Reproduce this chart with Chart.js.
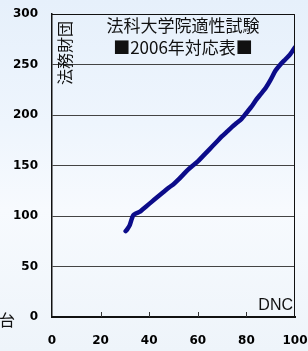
<!DOCTYPE html>
<html>
<head>
<meta charset="utf-8">
<script src="https://cdn.jsdelivr.net/npm/chart.js@4/dist/chart.umd.min.js"></script>
<style>
  html, body { margin: 0; padding: 0; }
  body { width: 308px; height: 351px; overflow: hidden;
    background: linear-gradient(180deg, #e6f0fb 0%, #eef5fd 35%, #f7fafe 60%, #eef4fa 100%); }
  #wrap { width: 308px; height: 351px; position: relative; }
</style>
</head>
<body>
<div id="wrap"><canvas id="c"></canvas></div>
<script>
// DNC 累積% (x) と 適性試験スコア (y)
const dncPct = [30.3, 31, 32, 32.8, 33.5, 34.5, 36, 37.5, 40, 42, 44, 46, 48, 50, 52, 54, 56, 58, 60,
  62, 64, 66, 68, 70, 72, 74, 76, 78, 80, 82, 84, 86, 88, 90, 92, 94, 96, 98, 100];
const scores = [85, 87, 91, 97, 101, 102.5, 104, 107, 112, 116, 120, 124, 128, 131.5, 136, 141, 146, 150, 154,
  159, 164, 169, 174, 179, 183.5, 188, 192, 196, 202, 208, 215, 221, 227, 235, 244, 250, 255, 260, 267];
const xTicks = [0, 20, 40, 60, 80, 100];
const yTicks = [0, 50, 100, 150, 200, 250, 300];
const titleLines = ['法科大学院適性試験', '■2006年対応表■'];
const sideLabel = '法務財団';
const cornerLabel = 'DNC';
const leftLabel = '台';

const points = dncPct.map((x, i) => ({x: x, y: scores[i]}));

const decor = {
  id: 'decor',
  afterDraw(chart) {
    const ctx = chart.ctx;
    const a = chart.chartArea;
    const xs = chart.scales.x;
    ctx.save();
    // 枠
    ctx.strokeStyle = '#111';
    ctx.lineWidth = 1;
    ctx.beginPath();
    ctx.moveTo(a.left, a.top + 0.5);
    ctx.lineTo(a.right - 0.5, a.top + 0.5);
    ctx.lineTo(a.right - 0.5, a.bottom);
    ctx.stroke();
    // 内向き目盛り
    ctx.strokeStyle = '#333';
    xTicks.slice(1, -1).forEach(v => {
      const px = Math.round(xs.getPixelForValue(v)) + 0.5;
      ctx.beginPath();
      ctx.moveTo(px, a.bottom);
      ctx.lineTo(px, a.bottom - 5);
      ctx.stroke();
    });
    // タイトル
    ctx.fillStyle = '#111';
    ctx.font = '17px "Noto Sans CJK JP"';
    ctx.textAlign = 'center';
    ctx.textBaseline = 'middle';
    ctx.fillText(titleLines[0], 183, 26);
    ctx.fillText(titleLines[1], 183, 48);
    // 縦書きラベル
    ctx.save();
    ctx.translate(65, 53);
    ctx.rotate(-Math.PI / 2);
    ctx.font = '16px "Noto Sans CJK JP"';
    ctx.fillText(sideLabel, 0, 0);
    ctx.restore();
    // DNC
    ctx.font = '16px "Liberation Sans"';
    ctx.textAlign = 'right';
    ctx.textBaseline = 'alphabetic';
    ctx.fillText(cornerLabel, 293, 310);
    ctx.font = '16px "Noto Sans CJK JP"';
    ctx.textAlign = 'left';
    ctx.fillText(leftLabel, -1, 326);
    ctx.restore();
  }
};

new Chart(document.getElementById('c'), {
  type: 'scatter',
  data: {
    datasets: [{
      data: points,
      showLine: true,
      borderColor: '#0c0c8a',
      borderWidth: 4.5,
      pointRadius: 0,
      tension: 0.2,
      borderCapStyle: 'round',
      borderJoinStyle: 'round'
    }]
  },
  options: {
    responsive: true,
    maintainAspectRatio: false,
    animation: false,
    layout: { padding: { top: 14, right: 13, left: 0, bottom: 0 } },
    plugins: { legend: { display: false }, tooltip: { enabled: false } },
    scales: {
      x: {
        type: 'linear', min: 0, max: 100,
        afterFit: s => { s.height = 34; s.paddingLeft = 0; s.paddingRight = 0; },
        afterBuildTicks: s => { s.ticks = xTicks.map(v => ({value: v})); },
        grid: { display: false, drawTicks: false },
        border: { display: true, color: '#111', width: 2 },
        ticks: { padding: 17, color: '#000', maxRotation: 0, font: { family: 'DejaVu Sans', weight: 'bold', size: 12 } }
      },
      y: {
        min: 0, max: 300,
        afterFit: s => { s.width = 52; s.paddingTop = 0; s.paddingBottom = 0; },
        afterBuildTicks: s => { s.ticks = yTicks.map(v => ({value: v})); },
        grid: { color: '#444', lineWidth: 1, drawTicks: false },
        border: { display: true, color: '#111', width: 1.5 },
        ticks: { padding: 14, color: '#000', font: { family: 'DejaVu Sans', weight: 'bold', size: 12 } }
      }
    }
  },
  plugins: [decor]
});
</script>
</body>
</html>
